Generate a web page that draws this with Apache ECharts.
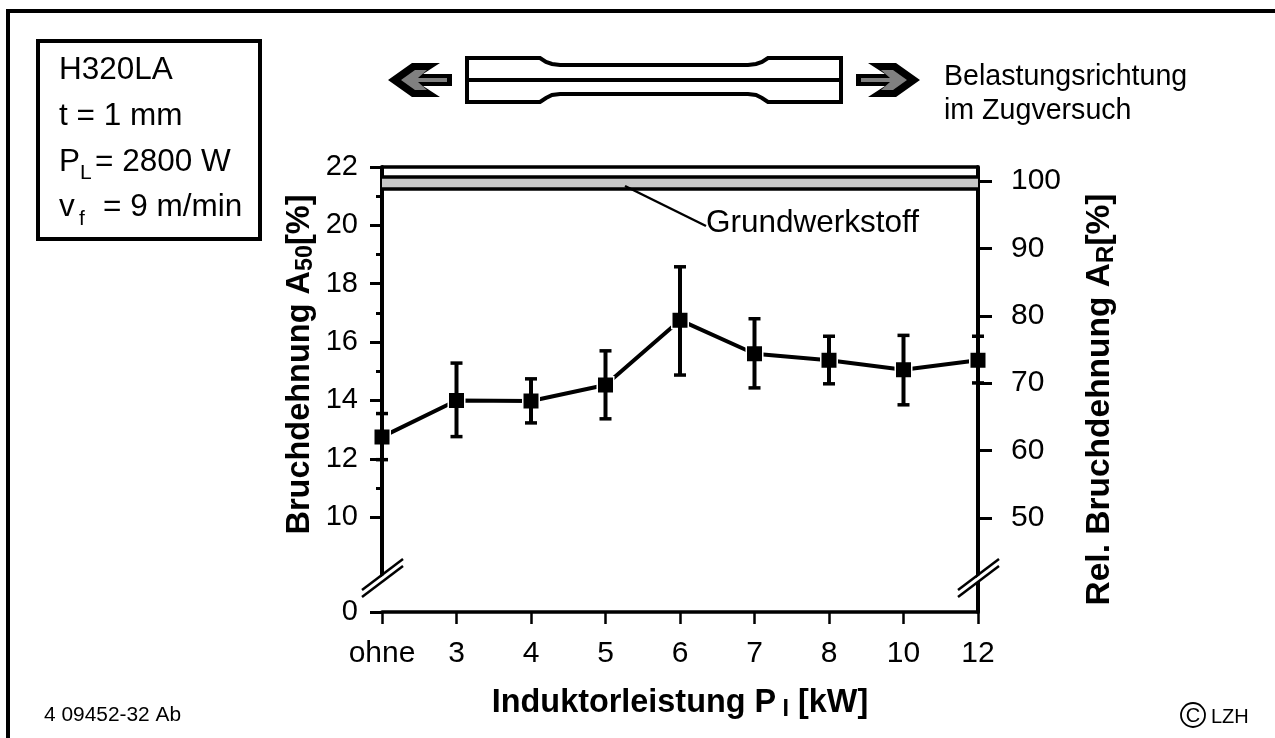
<!DOCTYPE html>
<html>
<head>
<meta charset="utf-8">
<style>html,body{margin:0;padding:0;background:#fff}#c{width:1275px;height:738px}</style>
<script src="https://cdn.jsdelivr.net/npm/echarts@6/dist/echarts.min.js"></script>
</head>
<body>
<div id="c"></div>
<script>
var categories = ['ohne','3','4','5','6','7','8','10','12'];
var elongation = [12.75,14.0,13.98,14.53,16.75,15.6,15.38,15.05,15.38];
var errorHigh = [13.55,15.28,14.74,15.7,18.58,16.8,16.2,16.23,16.2];
var errorLow = [11.97,12.76,13.23,13.37,14.87,14.43,14.57,13.85,14.6];
var baseMaterialBand = [21.27,21.65];
var leftAxisTop = 22;
var leftTicks = [0,10,12,14,16,18,20,22];
var rightTicks = [50,60,70,80,90,100];
var sans = '"Liberation Sans", Arial, sans-serif';

var chart = echarts.init(document.getElementById('c'), null, {renderer:'canvas'});

function txt(x,baseline,text,size,align){
  return {type:'text',z:20,silent:true,x:x,y:baseline-0.29*size,style:{text:text,font:size+'px '+sans,fill:'#000',verticalAlign:'middle',align:align||'left'}};
}
function poly(points,fill,stroke,lw){
  return {type:'polygon',z:20,silent:true,shape:{points:points},style:{fill:fill,stroke:stroke||null,lineWidth:lw||0}};
}
function line(points,lw,zz){
  return {type:'polyline',z:zz||20,silent:true,shape:{points:points},style:{stroke:'#000',fill:null,lineWidth:lw,lineJoin:'miter'}};
}
function mirror(pts){return pts.map(function(p){return [1308-p[0],p[1]];});}
var arrowOuter=[[388,80],[412,63],[440,63],[423,74],[452,74],[452,86],[423,86],[440,97],[412,97]];
var arrowInner=[[401,80],[415,70],[427,70],[418,78],[447,78],[447,82],[418,82],[427,90],[415,90]];
var specimenOutline=[[467,58],[540,58],[546,62],[552,64],[560,65],[748,65],[756,64],[762,62],[768,58],[841,58],[841,102],[768,102],[762,98],[756,95],[748,94],[560,94],[552,95],[546,98],[540,102],[467,102]];
function breakMark(x){
  return [
    poly([[x-20,592],[x+20,561],[x+20,567],[x-20,598]],'#fff'),
    line([[x-20,590],[x+21,559]],2.5,21),
    line([[x-20,597],[x+21,566]],2.5,21)
  ];
}

var graphics = [
  line([[8,738],[8,11],[1275,11]],4),
  {type:'rect',z:20,silent:true,shape:{x:38,y:41,width:222,height:198},style:{fill:'#fff',stroke:'#000',lineWidth:4}},
  txt(59,79,'H320LA',31.5),
  txt(59,125,'t = 1 mm',31.5),
  txt(59,171,'P',31.5), txt(80,179,'L',21), txt(95,171,'= 2800 W',31.5),
  txt(59,216,'v',31.5), txt(79,225,'f',21), txt(103,216,'= 9 m/min',31.5),
  poly(arrowOuter,'#000'), poly(arrowInner,'#808080'),
  poly(mirror(arrowOuter),'#000'), poly(mirror(arrowInner),'#808080'),
  poly(specimenOutline,'#fff','#000',4),
  line([[467,80],[841,80]],4,21),
  txt(944,85,'Belastungsrichtung',28.6),
  txt(944,119,'im Zugversuch',28.6),
  line([[625,186],[706,226]],2.5,21),
  txt(706,232,'Grundwerkstoff',31.5),
  txt(44,721,'4 09452-32 Ab',20.9),
  {type:'circle',z:20,silent:true,shape:{cx:1193,cy:715,r:12},style:{fill:null,stroke:'#000',lineWidth:1.8}},
  txt(1193,722,'C',20,'center'),
  txt(1211,723,'LZH',20)
].concat(breakMark(382)).concat(breakMark(978));

function nameRich(size){
  return {
    b:{fontFamily:sans,fontWeight:'bold',fontSize:size,color:'#000'},
    s:{fontFamily:sans,fontWeight:'bold',fontSize:size*0.72,color:'#000',padding:[size*0.36,0,0,0]}
  };
}

chart.setOption({
  animation:false,
  backgroundColor:'#fff',
  grid:{left:382,right:297,top:167,bottom:126,containLabel:false},
  textStyle:{fontFamily:sans,color:'#000'},
  xAxis:{
    type:'category',data:categories,boundaryGap:false,
    name:'{b|Induktorleistung P}{s| I}{b| [kW]}',nameLocation:'middle',nameGap:74,
    nameTextStyle:{rich:nameRich(32.4)},
    axisLine:{show:true,onZero:false,lineStyle:{color:'#000',width:3.5}},
    axisTick:{show:true,alignWithLabel:true,length:12,lineStyle:{color:'#000',width:2.5}},
    axisLabel:{show:true,interval:0,margin:27,color:'#000',fontSize:30,fontFamily:sans},
    splitLine:{show:false}
  },
  yAxis:[
    {
      type:'value',min:0,max:leftAxisTop,interval:2,
      breaks:[{start:0,end:8,gap:'8.2%'}],
      breakArea:{show:false},
      name:'{b|Bruchdehnung A}{s|50}{b|[%]}',nameLocation:'middle',nameRotate:90,nameGap:65,
      nameTextStyle:{padding:[0,0,0,50],rich:nameRich(32.5)},
      axisLine:{show:true,lineStyle:{color:'#000',width:4}},
      axisTick:{show:true,length:12,customValues:leftTicks,lineStyle:{color:'#000',width:3}},
      minorTick:{show:true,splitNumber:2,length:6,lineStyle:{color:'#000',width:3}},
      axisLabel:{show:true,margin:24,customValues:leftTicks,color:'#000',fontSize:29,fontFamily:sans},
      splitLine:{show:false},minorSplitLine:{show:false}
    },
    {
      type:'value',position:'right',min:36.06,max:102.08,
      name:'{b|Rel. Bruchdehnung A}{s|R}{b|[%]}',nameLocation:'middle',nameRotate:90,nameGap:104,
      nameTextStyle:{padding:[0,20,0,0],rich:nameRich(33.5)},
      axisLine:{show:true,lineStyle:{color:'#000',width:4}},
      axisTick:{show:true,length:14,customValues:rightTicks,lineStyle:{color:'#000',width:3}},
      axisLabel:{show:true,margin:33,customValues:rightTicks,color:'#000',fontSize:30,fontFamily:sans},
      splitLine:{show:false}
    }
  ],
  series:[
    {
      name:'Bruchdehnung',type:'line',data:elongation,yAxisIndex:0,z:5,
      symbol:'rect',symbolSize:16.5,showSymbol:true,
      lineStyle:{color:'#000',width:4},
      itemStyle:{color:'#000',borderColor:'#fff',borderWidth:1.5,opacity:1},
      markArea:{silent:true,z:1,itemStyle:{color:'#c8c8c8'},data:[[{yAxis:baseMaterialBand[0]},{yAxis:baseMaterialBand[1]}]]},
      markLine:{silent:true,symbol:'none',z:2,label:{show:false},
        lineStyle:{color:'#000',width:3.5,type:'solid'},
        data:[{yAxis:baseMaterialBand[0]},{yAxis:baseMaterialBand[1]},{yAxis:leftAxisTop}]}
    },
    {
      name:'Streuung',type:'custom',yAxisIndex:0,z:6,silent:true,
      data:categories.map(function(c,i){return [i,errorLow[i],errorHigh[i]];}),
      encode:{x:0,y:[1,2]},
      renderItem:function(params,api){
        var lo=api.coord([api.value(0),api.value(1)]);
        var hi=api.coord([api.value(0),api.value(2)]);
        var v={stroke:'#000',lineWidth:4,fill:null};
        var s={stroke:'#000',lineWidth:3.5,fill:null};
        return {type:'group',children:[
          {type:'line',shape:{x1:lo[0],y1:lo[1],x2:hi[0],y2:hi[1]},style:v},
          {type:'line',shape:{x1:lo[0]-6,y1:lo[1],x2:lo[0]+6,y2:lo[1]},style:s},
          {type:'line',shape:{x1:hi[0]-6,y1:hi[1],x2:hi[0]+6,y2:hi[1]},style:s}
        ]};
      }
    }
  ],
  graphic:{elements:graphics}
});
</script>
</body>
</html>
